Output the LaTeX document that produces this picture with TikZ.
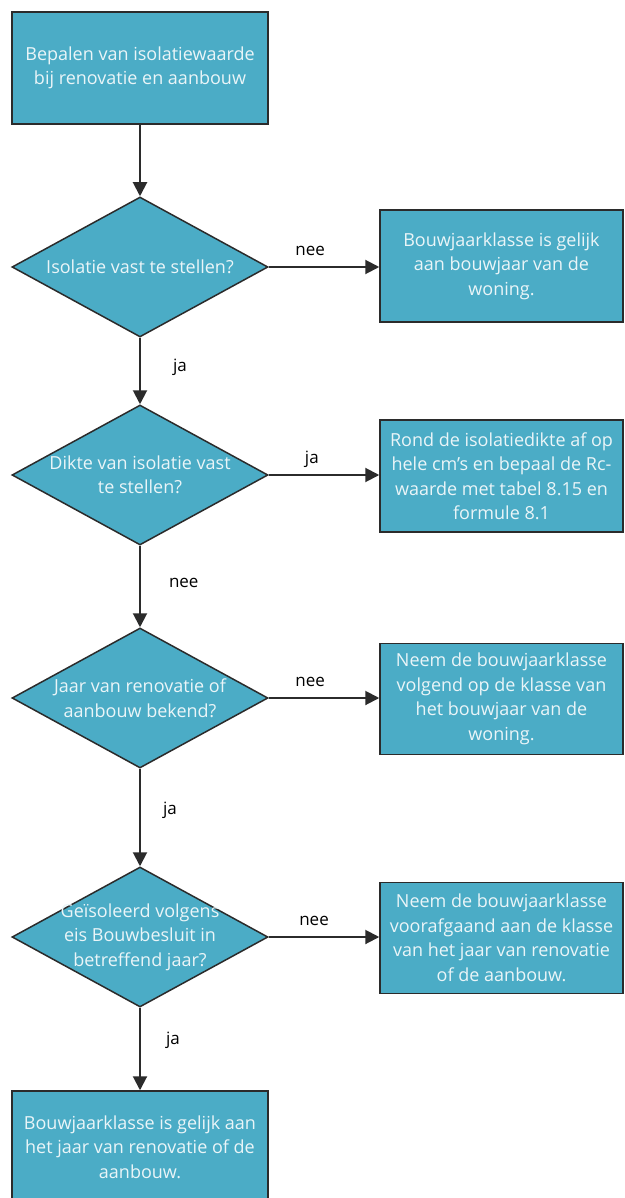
\documentclass[tikz,border=0pt]{standalone}
\usepackage{fontspec}
\setmainfont{Open Sans}
\usetikzlibrary{shapes.geometric,arrows.meta}
\definecolor{boxfill}{HTML}{4BACC6}
\definecolor{boxline}{HTML}{2B2B2B}
\definecolor{boxtext}{HTML}{EAF5F8}
\tikzset{
  procbox/.style={draw=boxline, line width=1.5pt, fill=boxfill, text=boxtext,
    minimum width=#1, align=center, inner sep=0pt,
    font=\fontsize{18}{24.5}\selectfont},
  procbox/.default=243pt,
  decision/.style={diamond, draw=boxline, line width=1.5pt, fill=boxfill,
    minimum width=256pt, minimum height=140pt, inner sep=0pt, aspect=1.83},
  dtext/.style={text=boxtext, align=center, font=\fontsize{18}{24.5}\selectfont},
  conn/.style={draw=boxline, line width=2pt, -{Triangle[width=14pt,length=14pt]}},
  lbl/.style={text=black, font=\fontsize{17}{20}\selectfont, inner sep=0pt},
  hlbl/.style={lbl, anchor=base, yshift=12pt},
  vlbl/.style={lbl, anchor=base west, xshift=#1},
}
\begin{document}
\begin{tikzpicture}[x=1pt,y=-1pt]
\useasboundingbox (0,0) rectangle (624,1198);
\fill[white] (0,0) rectangle (624,1198);
\begin{scope}
\clip (0,0) rectangle (624,1198);
% left column
\node[procbox=256pt, minimum height=112pt] (start) at (140,68) {Bepalen van isolatiewaarde\\bij renovatie en aanbouw};
\node[decision, label={[dtext]center:Isolatie vast te stellen?}] (d1) at (140,267) {};
\node[decision, label={[dtext]center:Dikte van isolatie vast\\te stellen?}] (d2) at (140,475) {};
\node[decision, label={[dtext]center:Jaar van renovatie of\\aanbouw bekend?}] (d3) at (140,698) {};
\node[decision, label={[dtext]center:Geïsoleerd volgens\\eis Bouwbesluit in\\betreffend jaar?}] (d4) at (140,937) {};
\node[procbox=256pt, minimum height=112pt] (end) at (140,1147) {Bouwjaarklasse is gelijk aan\\het jaar van renovatie of de\\aanbouw.};
% right column
\node[procbox, minimum height=112pt] (b1) at (501.5,266) {Bouwjaarklasse is gelijk\\aan bouwjaar van de\\woning.};
\node[procbox, minimum height=112pt] (b2) at (501.5,476) {Rond de isolatiedikte af op\\hele cm's en bepaal de Rc-\\waarde met tabel 8.15 en\\formule 8.1};
\node[procbox, minimum height=111pt] (b3) at (501.5,699) {Neem de bouwjaarklasse\\volgend op de klasse van\\het bouwjaar van de\\woning.};
\node[procbox, minimum height=111pt] (b4) at (501.5,938) {Neem de bouwjaarklasse\\voorafgaand aan de klasse\\van het jaar van renovatie\\of de aanbouw.};
% connectors
\draw[conn] (start) -- (d1);
\draw[conn] (d1) -- node[vlbl=32pt, pos=0.51] {ja} (d2);
\draw[conn] (d2) -- node[vlbl=28pt, pos=0.51] {nee} (d3);
\draw[conn] (d3) -- node[vlbl=22pt, pos=0.47] {ja} (d4);
\draw[conn] (d4) -- node[vlbl=25pt, pos=0.45] {ja} (end);
\draw[conn] (d1.east) -- node[hlbl, pos=0.375] {nee} (b1.west |- d1.east);
\draw[conn] (d2.east) -- node[hlbl, pos=0.39] {ja} (b2.west |- d2.east);
\draw[conn] (d3.east) -- node[hlbl, pos=0.375] {nee} (b3.west |- d3.east);
\draw[conn] (d4.east) -- node[hlbl, pos=0.41] {nee} (b4.west |- d4.east);
\end{scope}
\end{tikzpicture}
\end{document}
